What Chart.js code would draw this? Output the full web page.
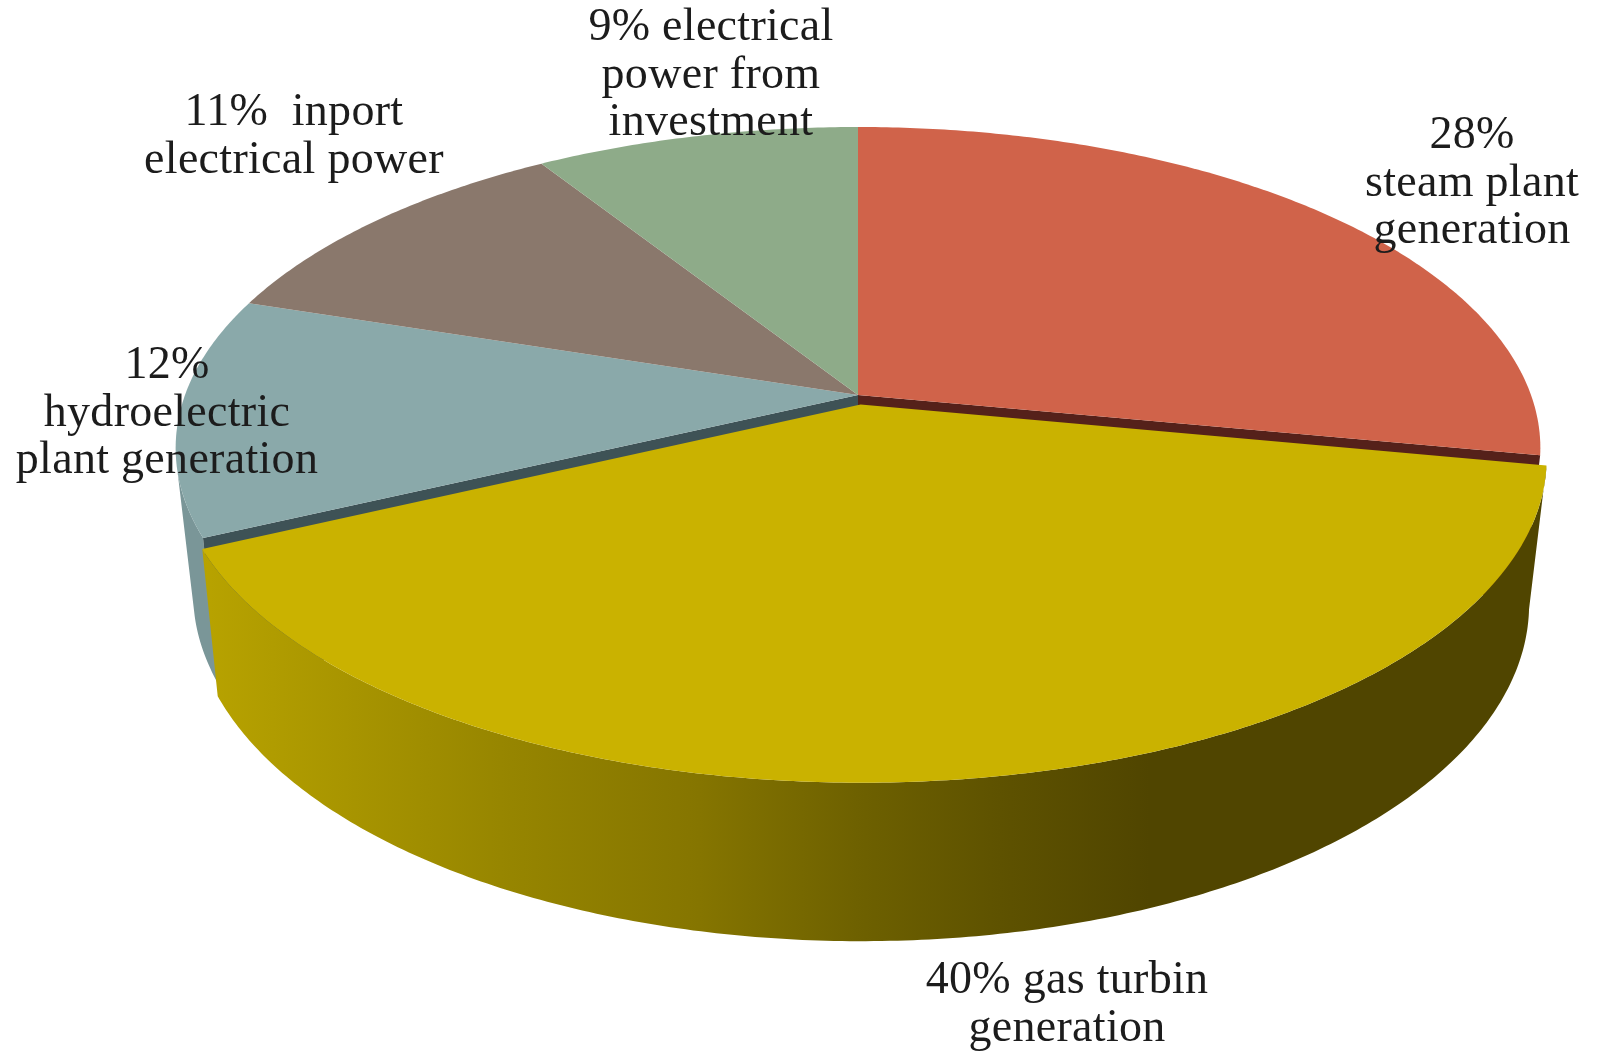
<!DOCTYPE html>
<html>
<head>
<meta charset="utf-8">
<title>Electrical power sources</title>
<script src="https://cdn.jsdelivr.net/npm/chart.js@4"></script>
<style>
  html, body { margin: 0; padding: 0; background: #fff; }
  canvas { display: block; }
</style>
</head>
<body>
<canvas id="pie" width="1597" height="1052"></canvas>
<script>
  const categories = [
    'steam plant generation',
    'gas turbin generation',
    'hydroelectric plant generation',
    'inport electrical power',
    'electrical power from investment'
  ];
  const shares = [28, 40, 12, 11, 9];
  const sliceColors = ['#D0634A', '#CAB200', '#8AA9AA', '#8A786C', '#8EAB89'];
  const sliceOffsets = [0, 16, 0, 0, 0];
  const labelLines = [
    ['28%', 'steam plant', 'generation'],
    ['40% gas turbin', 'generation'],
    ['12%', 'hydroelectric', 'plant generation'],
    ['11%  inport', 'electrical power'],
    ['9% electrical', 'power from', 'investment']
  ];

  // top face and bottom rim of the disc, as two perspective planes
  const topPlane = { cx: 858, cy: 395, a: 673, b: 312.2, k: 0.165 };
  const lowPlane = { cx: 858, cy: 536, a: 655, b: 323.6, k: 0.1716 };
  const labelAnchors = [[1472, 148], [1067, 993], [167, 378], [294, 125], [711, 40]];
  const labelLeading = 47.5;

  function project(plane, u, v) {
    const d = 1 - plane.k * v;
    return [plane.cx + plane.a * u / d, plane.cy + plane.b * v / d];
  }

  // offset of an arc along its middle angle, as a fraction of the radius
  function arcShift(arc) {
    const p = arc.getProps(['startAngle', 'endAngle', 'outerRadius']);
    const mid = (p.startAngle + p.endAngle) / 2;
    const f = (arc.options.offset || 0) / p.outerRadius;
    return { du: Math.cos(mid) * f, dv: Math.sin(mid) * f };
  }

  function rimPoints(plane, arc, from, to) {
    const s = arcShift(arc);
    const steps = Math.max(2, Math.ceil(Math.abs(to - from) / 0.01));
    const pts = [];
    for (let i = 0; i <= steps; i++) {
      const t = from + (to - from) * i / steps;
      pts.push(project(plane, Math.cos(t) + s.du, Math.sin(t) + s.dv));
    }
    return pts;
  }

  function fillPath(ctx, pts, color) {
    ctx.beginPath();
    pts.forEach((p, i) => (i ? ctx.lineTo(p[0], p[1]) : ctx.moveTo(p[0], p[1])));
    ctx.closePath();
    ctx.fillStyle = color;
    ctx.fill();
  }

  function angles(arc) {
    const p = arc.getProps(['startAngle', 'endAngle']);
    return [p.startAngle, p.endAngle];
  }

  function radialWall(ctx, angle, color) {
    const top = [project(topPlane, 0, 0), project(topPlane, Math.cos(angle), Math.sin(angle))];
    const low = [project(lowPlane, Math.cos(angle), Math.sin(angle)), project(lowPlane, 0, 0)];
    fillPath(ctx, top.concat(low), color);
  }

  function sliceFace(ctx, arc) {
    const [a0, a1] = angles(arc);
    const s = arcShift(arc);
    const apex = project(topPlane, s.du, s.dv);
    fillPath(ctx, [apex].concat(rimPoints(topPlane, arc, a0, a1)), arc.options.backgroundColor);
  }

  const disc3d = {
    id: 'disc3d',
    // the arcs keep their angles from the doughnut controller, only the drawing is projected
    beforeDatasetsDraw(chart) {
      const ctx = chart.ctx;
      const arcs = chart.getDatasetMeta(0).data;
      const steam = arcs[0];
      const gas = arcs[1];
      const hydro = arcs[2];
      const [gas0, gas1] = angles(gas);
      const hydroTurn = gas1 + 0.2;

      ctx.save();

      // side of the hydroelectric slice, visible left of the gas slice
      const hydroTop = rimPoints(topPlane, hydro, gas1, hydroTurn);
      const hydroLow = rimPoints(lowPlane, hydro, hydroTurn, gas1);
      fillPath(ctx, hydroTop.concat(hydroLow), '#7A9698');

      // cut faces showing behind the pulled out slice
      radialWall(ctx, gas0, '#55211A');
      radialWall(ctx, gas1, '#3E5256');

      // side of the gas slice
      const shade = ctx.createLinearGradient(200, 0, 1547, 0);
      shade.addColorStop(0, '#B8A300');
      shade.addColorStop(0.223, '#978600');
      shade.addColorStop(0.371, '#857500');
      shade.addColorStop(0.487, '#6E6100');
      shade.addColorStop(0.594, '#5E5200');
      shade.addColorStop(0.705, '#504500');
      shade.addColorStop(1, '#504500');
      const gasTop = rimPoints(topPlane, gas, gas0, gas1);
      const gasLow = rimPoints(lowPlane, gas, gas1, gas0);
      fillPath(ctx, gasTop.concat(gasLow), shade);

      // top faces, the pulled out slice last
      [steam, hydro, arcs[3], arcs[4], gas].forEach(arc => sliceFace(ctx, arc));

      ctx.restore();
      return false;
    },
    afterDraw(chart) {
      const ctx = chart.ctx;
      ctx.save();
      ctx.fillStyle = '#1c1c1c';
      ctx.font = '46px "Liberation Serif"';
      ctx.letterSpacing = '0.3px';
      ctx.textAlign = 'center';
      ctx.textBaseline = 'alphabetic';
      labelLines.forEach((lines, i) => {
        lines.forEach((line, j) => {
          ctx.fillText(line, labelAnchors[i][0], labelAnchors[i][1] + j * labelLeading);
        });
      });
      ctx.restore();
    }
  };

  new Chart(document.getElementById('pie'), {
    type: 'pie',
    data: {
      labels: categories,
      datasets: [{
        data: shares,
        backgroundColor: sliceColors,
        offset: sliceOffsets,
        borderWidth: 0
      }]
    },
    options: {
      responsive: false,
      animation: false,
      plugins: {
        legend: { display: false },
        tooltip: { enabled: false }
      }
    },
    plugins: [disc3d]
  });
</script>
</body>
</html>
